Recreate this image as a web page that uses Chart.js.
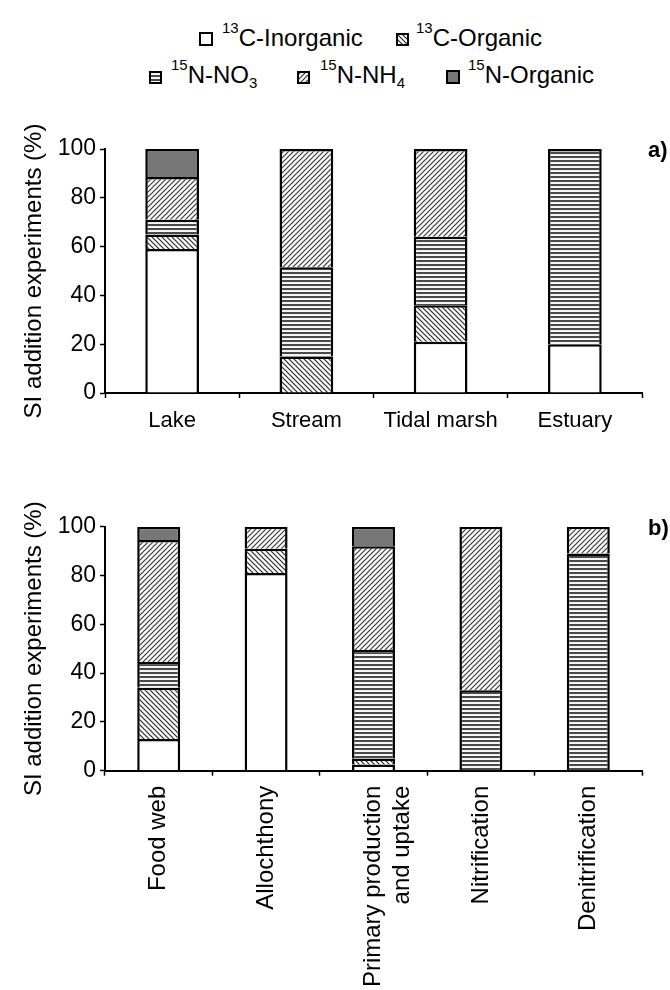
<!DOCTYPE html>
<html><head><meta charset="utf-8">
<script src="https://cdn.jsdelivr.net/npm/chart.js@4"></script>
<style>
html,body{margin:0;padding:0;background:#fff;width:670px;height:990px;overflow:hidden;font-family:"Liberation Sans",Arial,sans-serif;}
#wrap{position:relative;width:670px;height:990px;}
canvas.c{position:absolute;left:0;}
.lg{position:absolute;font-size:24px;line-height:24px;white-space:nowrap;color:#000;}
.sup{font-size:15px;position:relative;top:-13px;}
.sub{font-size:15px;position:relative;top:5px;}
canvas.sw{position:absolute;}
.pl{position:absolute;font-weight:bold;font-size:22px;line-height:22px;color:#000;}
</style></head>
<body>
<div id="wrap">
  <canvas class="sw" id="sw0" width="14" height="14" style="left:199px;top:32px"></canvas>
  <div class="lg" style="left:222px;top:26px"><span class="sup">13</span>C-Inorganic</div>
  <canvas class="sw" id="sw1" width="13" height="13" style="left:396px;top:33px"></canvas>
  <div class="lg" style="left:416px;top:26px"><span class="sup">13</span>C-Organic</div>
  <canvas class="sw" id="sw2" width="13" height="13" style="left:149px;top:71px"></canvas>
  <div class="lg" style="left:171px;top:63px"><span class="sup">15</span>N-NO<span class="sub">3</span></div>
  <canvas class="sw" id="sw3" width="13" height="13" style="left:297px;top:71px"></canvas>
  <div class="lg" style="left:320px;top:63px"><span class="sup">15</span>N-NH<span class="sub">4</span></div>
  <canvas class="sw" id="sw4" width="14" height="14" style="left:446px;top:70px"></canvas>
  <div class="lg" style="left:468px;top:63px"><span class="sup">15</span>N-Organic</div>

  <canvas class="c" id="chartA" width="670" height="340" style="top:100px;width:670px;height:340px"></canvas>
  <canvas class="c" id="chartB" width="670" height="510" style="top:480px;width:670px;height:510px"></canvas>
  <div class="pl" style="left:648px;top:139px">a)</div>
  <div class="pl" style="left:648px;top:517px">b)</div>
</div>
<script>
// ---- Data ----
const seriesNames = ["13C-Inorganic", "13C-Organic", "15N-NO3", "15N-NH4", "15N-Organic"];

const categoriesA = ["Lake", "Stream", "Tidal marsh", "Estuary"];
const cInorganicA = [59, 0, 21, 20];
const cOrganicA   = [6, 15, 15, 0];
const nNO3A       = [6, 36.5, 28, 80];
const nNH4A       = [17.5, 48.5, 36, 0];
const nOrganicA   = [11.5, 0, 0, 0];

const categoriesB = ["Food web", "Allochthony", ["Primary production", "and uptake"], "Nitrification", "Denitrification"];
const cInorganicB = [13, 81, 2.5, 0, 0];
const cOrganicB   = [21, 10, 2.5, 0, 0];
const nNO3B       = [10.5, 0, 44.5, 33, 89];
const nNH4B       = [50, 9, 42.5, 67, 11];
const nOrganicB   = [5.5, 0, 8, 0, 0];

const yTicks = [0, 20, 40, 60, 80, 100];
const yTitle = "SI addition experiments (%)";

// ---- Patterns ----
function mkPattern(type) {
  const c = document.createElement('canvas');
  const ctx = c.getContext('2d');
  if (type === 'h') {
    c.width = 4; c.height = 4;
    ctx.fillStyle = '#f4f4f4'; ctx.fillRect(0, 0, 4, 4);
    ctx.fillStyle = '#4a4a4a'; ctx.fillRect(0, 0, 4, 2);
  } else {
    const s = 5;
    c.width = s; c.height = s;
    ctx.fillStyle = '#fff'; ctx.fillRect(0, 0, s, s);
    ctx.strokeStyle = type === 'f' ? '#3a3a3a' : '#2a2a2a'; ctx.lineWidth = 1.2;
    ctx.beginPath();
    if (type === 'f') {
      ctx.moveTo(0, s); ctx.lineTo(s, 0);
      ctx.moveTo(-1, 1); ctx.lineTo(1, -1);
      ctx.moveTo(s - 1, s + 1); ctx.lineTo(s + 1, s - 1);
    } else {
      ctx.moveTo(0, 0); ctx.lineTo(s, s);
      ctx.moveTo(-1, s - 1); ctx.lineTo(1, s + 1);
      ctx.moveTo(s - 1, -1); ctx.lineTo(s + 1, 1);
    }
    ctx.stroke();
  }
  return ctx.createPattern(c, 'repeat');
}
const fills = ['#ffffff', mkPattern('b'), mkPattern('h'), mkPattern('f'), '#777777'];

// legend swatches
for (let i = 0; i < 5; i++) {
  const cv = document.getElementById('sw' + i);
  const n = cv.width;
  const ctx = cv.getContext('2d');
  ctx.fillStyle = fills[i]; ctx.fillRect(0, 0, n, n);
  ctx.strokeStyle = '#000'; ctx.lineWidth = 2; ctx.strokeRect(1, 1, n - 2, n - 2);
}

const FONT = '"Liberation Sans", Arial, sans-serif';

function makeChart(id, labels, arrays, o) {
  return new Chart(document.getElementById(id), {
    type: 'bar',
    data: {
      labels: labels,
      datasets: arrays.map((d, i) => ({
        label: seriesNames[i],
        data: d,
        backgroundColor: fills[i],
        borderColor: '#000',
        borderWidth: 2.5,
        categoryPercentage: 1.0,
        barPercentage: 0.4
      }))
    },
    options: {
      responsive: false,
      devicePixelRatio: 1,
      animation: false,
      layout: { padding: { left: 0, right: 28, top: o.top, bottom: 0 } },
      plugins: { legend: { display: false }, tooltip: { enabled: false } },
      scales: {
        x: {
          stacked: true,
          offset: true,
          grid: { offset: true, drawOnChartArea: false, drawTicks: true, tickLength: 5, tickColor: '#000', tickWidth: 1.5 },
          border: { display: true, color: '#000', width: 2 },
          ticks: { color: '#000', font: { family: FONT, size: o.xFont }, padding: o.xPad, autoSkip: false,
                   maxRotation: o.rot, minRotation: o.rot },
          afterFit: s => { s.height = o.xHeight; }
        },
        y: {
          stacked: true, min: 0, max: 100,
          afterBuildTicks: s => { s.ticks = yTicks.map(v => ({ value: v })); },
          ticks: { color: '#000', font: { family: FONT, size: 23 }, padding: 4 },
          grid: { drawOnChartArea: false, drawTicks: true, tickLength: 5, tickColor: '#000', tickWidth: 1.5 },
          border: { display: true, color: '#000', width: 2 },
          title: { display: true, text: yTitle, color: '#000', font: { family: FONT, size: 24 }, padding: { top: 20, bottom: 0 } },
          afterFit: s => { s.width = 105; }
        }
      }
    }
  });
}

makeChart('chartA', categoriesA, [cInorganicA, cOrganicA, nNO3A, nNH4A, nOrganicA],
  { top: 49, xFont: 22, xPad: 10, rot: 0, xHeight: 47 });
makeChart('chartB', categoriesB, [cInorganicB, cOrganicB, nNO3B, nNH4B, nOrganicB],
  { top: 46.7, xFont: 24, xPad: 10, rot: 90, xHeight: 219.3 });
</script>
</body></html>
